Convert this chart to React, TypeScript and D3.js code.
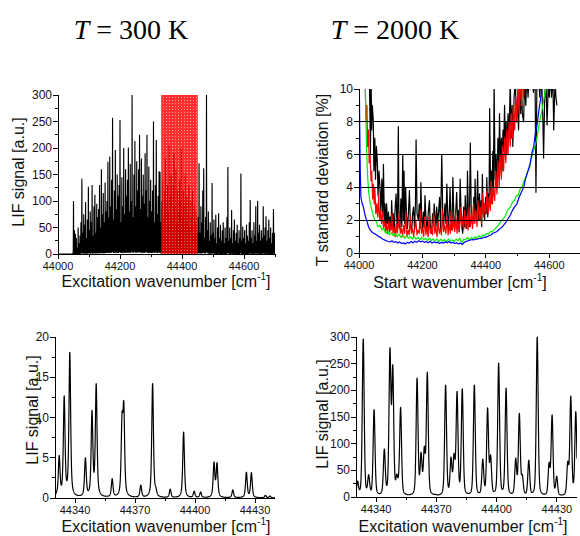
import React, { useMemo } from 'react';
import * as d3 from 'd3';

// ---------------- DATA ----------------
const TITLE_LEFT = '300 K';
const TITLE_RIGHT = '2000 K';

// Top-left: T = 300 K survey spectrum (peak heights on a 3 cm-1 grid starting at 44050)
const TL_START = 44050;
const TL_STEP = 3;
const TL_HEIGHTS = [
  100, 45, 38, 30, 12, 50, 20, 35, 60, 142, 40, 75, 55, 98, 30, 65, 127, 45, 80, 60,
  130, 35, 90, 112, 40, 95, 70, 85, 130, 50, 160, 75, 115, 60, 135, 80, 100, 174, 70, 184,
  90, 140, 257, 65, 120, 196, 85, 150, 110, 130, 253, 60, 145, 90, 200, 75, 160, 110, 140, 201,
  80, 170, 100, 300, 70, 150, 213, 90, 175, 120, 160, 225, 85, 180, 110, 150, 95, 190, 120, 225,
  70, 165, 100, 140, 80, 120, 250, 60, 130, 215, 75, 110, 156, 155, 60, 100, 140, 70, 120, 180,
  90, 130, 80, 205, 110, 150, 70, 130, 190, 90, 160, 60, 120, 80, 140, 100, 200, 70, 120, 90,
  150, 60, 110, 80, 130, 50, 100, 70, 120, 40, 90, 60, 80, 40, 70, 171, 40, 90, 60, 120,
  162, 30, 70, 300, 45, 80, 25, 60, 35, 134, 40, 65, 30, 74, 20, 50, 77, 30, 55, 25,
  45, 60, 20, 50, 30, 70, 164, 25, 50, 30, 83, 20, 45, 65, 25, 40, 55, 20, 45, 30,
  152, 25, 52, 30, 45, 20, 55, 35, 25, 60, 102, 30, 45, 20, 60, 35, 90, 25, 100, 40,
  55, 25, 45, 30, 90, 35, 50, 71, 25, 45, 65, 30, 50, 20, 40, 85, 40,
];
const TL_BOX = [44333, 44451];
const TL_X_MAJOR = [44000, 44200, 44400, 44600];
const TL_Y_MAJOR = [0, 50, 100, 150, 200, 250, 300];

// Top-right: T standard deviation vs start wavenumber (four evaluations)
const TR_BLACK: [number, number][] = [
  [44030, 12], [44033, 10.5], [44036, 6], [44038, 11], [44040, 7.5], [44042, 9], [44045, 8.1], [44047, 5],
  [44050, 7], [44052, 4.5], [44055, 6.5], [44058, 5.5], [44060, 3.5], [44063, 5], [44066, 4.0], [44069, 2.5],
  [44072, 4.5], [44075, 2.2], [44077, 5.4], [44080, 2.0], [44082, 3.0], [44085, 1.5], [44087, 3.0], [44090, 1.8],
  [44093, 2.5], [44096, 1.3], [44098, 2.2], [44101, 1.4], [44103, 3.2], [44106, 1.5], [44108, 2.4], [44111, 1.3],
  [44114, 2.8], [44117, 3.6], [44120, 1.4], [44122, 3.0], [44124, 7.7], [44126, 2.0], [44129, 1.5], [44132, 3.3],
  [44135, 1.6], [44138, 6.0], [44140, 2.0], [44142, 5.0], [44144, 1.8], [44147, 4.0], [44150, 2.2], [44153, 1.5],
  [44156, 2.5], [44159, 3.8], [44162, 1.8], [44166, 1.3], [44169, 2.4], [44172, 2.8], [44175, 1.5], [44178, 3.0],
  [44180, 6.9], [44183, 2.4], [44187, 2.0], [44190, 3.0], [44193, 1.5], [44195, 4.3], [44198, 2.0], [44201, 1.5],
  [44203, 2.5], [44206, 1.6], [44208, 3.5], [44211, 2.2], [44214, 1.4], [44216, 1.8], [44219, 2.6], [44222, 3.2],
  [44225, 1.6], [44229, 1.2], [44232, 2.4], [44235, 1.8], [44237, 3.0], [44240, 2.2], [44243, 1.6], [44245, 2.8],
  [44248, 1.8], [44251, 2.5], [44254, 3.4], [44257, 1.5], [44261, 6.0], [44264, 2.5], [44266, 1.4], [44268, 2.0],
  [44271, 3.0], [44274, 1.8], [44277, 4.2], [44280, 2.2], [44282, 1.5], [44285, 2.6], [44287, 4.0], [44290, 2.0],
  [44293, 1.4], [44296, 4.6], [44299, 2.2], [44302, 1.5], [44305, 2.5], [44308, 3.7], [44311, 1.8], [44314, 2.6],
  [44316, 1.3], [44319, 4.5], [44322, 2.4], [44325, 1.5], [44327, 1.2], [44330, 2.8], [44333, 1.6], [44335, 3.5],
  [44338, 2.0], [44340, 1.5], [44342, 5.0], [44345, 2.4], [44348, 1.6], [44351, 6.7], [44354, 2.4], [44357, 1.8],
  [44359, 1.8], [44362, 3.4], [44364, 2.0], [44366, 4.5], [44369, 2.2], [44372, 3.0], [44374, 5.0], [44377, 2.0],
  [44380, 3.6], [44382, 2.0], [44385, 3.2], [44387, 1.6], [44389, 4.8], [44392, 2.4], [44394, 3.0], [44396, 2.0],
  [44399, 3.4], [44401, 2.4], [44403, 4.6], [44406, 2.2], [44408, 3.6], [44410, 2.8], [44412, 8.8], [44415, 3.5],
  [44417, 5.0], [44419, 3.0], [44422, 6.2], [44424, 4.0], [44426, 10.5], [44429, 4.5], [44432, 6.0], [44435, 4.0],
  [44438, 7.0], [44441, 5.0], [44443, 8.5], [44446, 5.5], [44449, 7.0], [44451, 5.0], [44454, 7.5], [44456, 6.2],
  [44459, 9.0], [44462, 6.0], [44464, 8.0], [44466, 6.0], [44470, 8.5], [44473, 7.0], [44477, 10.5], [44480, 7.0],
  [44483, 9.0], [44485, 6.5], [44489, 9.5], [44493, 10.5], [44496, 8.0], [44500, 9.5], [44503, 7.5], [44507, 10.5],
  [44510, 8.5], [44512, 10.5], [44515, 8.5], [44519, 8.0], [44522, 10.5], [44526, 9.0], [44529, 11], [44533, 9.5],
  [44537, 11], [44540, 10], [44545, 11], [44550, 9.8], [44555, 11], [44558, 3.7], [44561, 10.5], [44566, 11],
  [44570, 9.5], [44575, 11], [44580, 8.0], [44582, 5.8], [44585, 9], [44589, 11], [44593, 7.8], [44597, 10.5],
  [44600, 9.5], [44603, 11], [44607, 9.5], [44611, 11], [44614, 7.5], [44618, 10.5], [44621, 9.5], [44624, 9.0],
];
const TR_RED: [number, number][] = [
  [44018, 12], [44020, 10], [44022, 8], [44025, 9], [44027, 6.5], [44030, 7.5], [44032, 5.5], [44035, 6.0],
  [44038, 4.4], [44040, 5.0], [44043, 3.3], [44045, 4.2], [44048, 3.0], [44050, 4.0], [44053, 2.4], [44056, 3.0],
  [44059, 2.2], [44062, 3.5], [44065, 2.0], [44068, 2.6], [44071, 1.8], [44074, 2.5], [44077, 1.5], [44080, 2.0],
  [44084, 1.3], [44087, 1.8], [44090, 1.2], [44094, 2.0], [44097, 1.3], [44100, 1.6], [44104, 2.4], [44107, 1.2],
  [44110, 1.6], [44114, 1.0], [44117, 1.8], [44120, 1.2], [44124, 1.6], [44127, 2.5], [44130, 1.2], [44134, 1.5],
  [44137, 1.0], [44141, 1.7], [44144, 1.2], [44148, 2.4], [44151, 1.0], [44155, 1.4], [44158, 1.1], [44162, 2.2],
  [44165, 1.2], [44169, 1.5], [44172, 1.0], [44176, 1.5], [44179, 2.0], [44183, 1.1], [44186, 1.4], [44190, 1.2],
  [44193, 2.6], [44197, 1.2], [44200, 1.5], [44204, 1.0], [44207, 2.2], [44211, 1.1], [44214, 1.6], [44218, 1.0],
  [44221, 2.2], [44225, 1.2], [44228, 1.5], [44232, 1.1], [44235, 2.4], [44239, 1.2], [44242, 1.6], [44246, 1.0],
  [44249, 2.0], [44253, 1.2], [44256, 1.5], [44260, 1.1], [44263, 2.6], [44267, 1.3], [44270, 1.7], [44274, 1.2],
  [44277, 2.2], [44281, 1.1], [44284, 1.8], [44288, 1.2], [44291, 2.6], [44295, 1.4], [44298, 2.0], [44302, 1.3],
  [44305, 2.4], [44309, 1.2], [44312, 1.9], [44316, 1.3], [44319, 2.8], [44323, 1.5], [44326, 2.2], [44330, 1.4],
  [44333, 2.6], [44337, 1.5], [44340, 2.2], [44344, 1.4], [44347, 2.8], [44351, 1.6], [44354, 2.4], [44358, 1.5],
  [44361, 3.0], [44365, 1.8], [44368, 2.6], [44372, 1.6], [44375, 3.2], [44379, 2.0], [44382, 2.8], [44386, 1.8],
  [44389, 3.6], [44393, 2.2], [44396, 3.0], [44400, 2.4], [44403, 3.8], [44407, 2.4], [44410, 3.4], [44414, 2.6],
  [44417, 4.4], [44421, 3.0], [44424, 4.0], [44428, 3.2], [44431, 5.0], [44435, 3.6], [44438, 5.6], [44442, 4.0],
  [44445, 6.0], [44449, 4.5], [44452, 6.5], [44456, 5.0], [44459, 7.0], [44463, 5.5], [44466, 7.5], [44470, 6.0],
  [44473, 8.0], [44477, 6.5], [44480, 8.5], [44484, 7.0], [44487, 9.0], [44491, 7.5], [44494, 9.5], [44498, 8.0],
  [44501, 10.5], [44505, 8.5], [44508, 11], [44512, 9.0], [44515, 11], [44519, 9.5], [44522, 11], [44526, 10.2],
  [44530, 11],
];
const TR_GREEN: [number, number][] = [
  [44018, 12], [44020, 10], [44022, 8], [44024, 6.2], [44027, 4.8], [44030, 3.8], [44034, 3.2], [44038, 2.8],
  [44042, 2.5], [44046, 2.2], [44050, 2.0], [44055, 1.9], [44060, 1.6], [44066, 1.7], [44072, 1.4], [44078, 1.5],
  [44084, 1.2], [44090, 1.35], [44096, 1.1], [44102, 1.25], [44108, 1.05], [44114, 1.2], [44120, 1.0], [44126, 1.15],
  [44132, 0.95], [44138, 1.1], [44144, 0.9], [44150, 1.05], [44156, 0.9], [44162, 1.0], [44168, 0.85], [44174, 1.0],
  [44180, 0.85], [44186, 0.95], [44192, 0.8], [44198, 0.95], [44204, 0.8], [44210, 0.9], [44216, 0.75], [44222, 0.9],
  [44228, 0.75], [44234, 0.85], [44240, 0.75], [44246, 0.85], [44252, 0.7], [44258, 0.85], [44264, 0.72], [44270, 0.82],
  [44276, 0.7], [44282, 0.85], [44288, 0.72], [44294, 0.8], [44300, 0.7], [44306, 0.85], [44312, 0.75], [44318, 0.9],
  [44324, 0.6], [44330, 0.85], [44336, 0.8], [44342, 0.95], [44348, 0.8], [44354, 0.95], [44360, 0.85], [44366, 1.0],
  [44372, 0.9], [44378, 1.05], [44384, 0.95], [44390, 1.1], [44396, 1.05], [44402, 1.2], [44408, 1.15], [44414, 1.3],
  [44420, 1.3], [44430, 1.5], [44440, 1.7], [44450, 2.0], [44460, 2.2], [44468, 2.6], [44477, 2.8], [44484, 3.1],
  [44490, 3.2], [44496, 3.5], [44502, 3.5], [44508, 3.9], [44514, 4.0], [44520, 4.4], [44526, 4.6], [44532, 5.0],
  [44538, 5.2], [44544, 5.8], [44550, 6.2], [44556, 6.6], [44561, 7.0], [44566, 7.6], [44571, 8.2], [44576, 8.6],
  [44582, 9.3], [44587, 9.8], [44592, 10.4],
];
const TR_BLUE: [number, number][] = [
  [44000, 12], [44002, 8.3], [44004, 5], [44006, 3.4], [44010, 3.0], [44014, 2.8], [44019, 2.3], [44024, 2.0],
  [44030, 1.6], [44035, 1.4], [44040, 1.3], [44046, 1.2], [44052, 1.15], [44056, 1.1], [44062, 1.0], [44068, 0.95],
  [44074, 0.85], [44080, 0.8], [44086, 0.75], [44092, 0.7], [44098, 0.67], [44104, 0.75], [44110, 0.65], [44116, 0.7],
  [44122, 0.6], [44128, 0.68], [44134, 0.58], [44140, 0.62], [44146, 0.55], [44152, 0.65], [44158, 0.6], [44164, 0.7],
  [44170, 0.62], [44176, 0.72], [44182, 0.65], [44188, 0.75], [44194, 0.68], [44200, 0.72], [44206, 0.65], [44212, 0.7],
  [44218, 0.62], [44224, 0.72], [44230, 0.6], [44236, 0.68], [44242, 0.62], [44248, 0.66], [44254, 0.58], [44260, 0.65],
  [44266, 0.6], [44272, 0.68], [44278, 0.62], [44284, 0.7], [44290, 0.6], [44296, 0.66], [44302, 0.58], [44308, 0.62],
  [44314, 0.55], [44320, 0.6], [44326, 0.52], [44332, 0.65], [44338, 0.7], [44344, 0.75], [44350, 0.78], [44356, 0.82],
  [44362, 0.8], [44368, 0.85], [44374, 0.84], [44380, 0.9], [44386, 0.88], [44392, 0.95], [44398, 0.95], [44404, 1.0],
  [44410, 1.05], [44416, 1.1], [44422, 1.2], [44428, 1.25], [44434, 1.3], [44440, 1.4], [44446, 1.5], [44452, 1.6],
  [44458, 1.75], [44464, 1.9], [44470, 2.1], [44477, 2.3], [44484, 2.6], [44490, 2.8], [44498, 3.0], [44505, 3.4],
  [44512, 3.7], [44519, 4.0], [44526, 4.6], [44533, 5.0], [44540, 5.5], [44546, 6.2], [44551, 6.5], [44556, 7.3],
  [44561, 7.8], [44566, 8.5], [44571, 9.2], [44577, 10], [44582, 10.8],
];
const TR_GRID = [2, 4, 6, 8];
const TR_X_MAJOR = [44000, 44200, 44400, 44600];
const TR_Y_MAJOR = [0, 2, 4, 6, 8, 10];

// Bottom-left: T = 300 K detail (peak centres / heights)
const BL_PEAK_WN = [
  44330.8, 44332.1, 44334.6, 44337.4, 44345.2, 44348.5, 44350.6, 44358.6, 44363.5, 44364.4, 44372.9, 44378.8,
  44380.4, 44387.6, 44394.3, 44399.6, 44402.8, 44409.5, 44411.0, 44418.9, 44425.7, 44428.2, 44435.2, 44437.5,
];
const BL_PEAK_H = [
  0.8, 5.3, 12.7, 18.1, 5.0, 10.9, 14.2, 2.4, 10.6, 12.0, 1.6, 14.2,
  1.4, 1.1, 8.2, 0.85, 0.75, 4.5, 4.4, 1.0, 3.2, 3.15, 0.33, 0.25,
];
const BL_Y_MAJOR = [0, 5, 10, 15, 20];

// Bottom-right: T = 2000 K detail
const BR_PEAK_WN = [
  44330.8, 44333.6, 44336.3, 44339.0, 44344.1, 44346.9, 44348.3, 44350.3, 44351.2, 44352.2, 44360.4, 44362.4,
  44364.0, 44365.5, 44369.5, 44374.6, 44377.3, 44378.8, 44380.3, 44382.9, 44388.9, 44393.1, 44395.5, 44397.0,
  44401.0, 44404.7, 44409.5, 44411.3, 44412.8, 44416.0, 44420.2, 44426.1, 44427.6, 44429.9, 44435.4, 44436.9,
  44439.4,
];
const BR_PEAK_H = [
  30, 296, 42, 164, 90, 280, 248, 43, 43, 168, 223, 84,
  95, 234, 5, 210, 75, 82, 198, 203, 210, 71, 167, 79,
  251, 204, 73, 157, 42, 69, 300, 65, 154, 39, 67, 189,
  160,
];
const BR_Y_MAJOR = [0, 50, 100, 150, 200, 250, 300];
const B_X_MAJOR = [44340, 44370, 44400, 44430];

// ---------------- HELPERS ----------------
const SANS = "'Liberation Sans', Arial, Helvetica, sans-serif";
const SERIF = "'Liberation Serif', 'Times New Roman', serif";

function shape(x: number, c: number, g: number, eta: number) {
  const d = (x - c) / g;
  return eta / (1 + d * d) + (1 - eta) * Math.exp(-Math.LN2 * d * d);
}

function spectrum(centers: number[], heights: number[], g: number, eta: number, x0: number, x1: number, step: number) {
  const n = centers.length;
  let a = heights.slice();
  for (let it = 0; it < 40; it++) {
    const next = heights.map((h, i) => {
      let s = 0;
      for (let j = 0; j < n; j++) if (j !== i) s += a[j] * shape(centers[i], centers[j], g, eta);
      return Math.max(h - s, 0.05 * h);
    });
    a = a.map((v, i) => 0.5 * v + 0.5 * next[i]);
  }
  const pts: [number, number][] = [];
  const m = Math.round((x1 - x0) / step);
  for (let k = 0; k <= m; k++) {
    const x = x0 + k * step;
    let s = 0;
    for (let j = 0; j < n; j++) s += a[j] * shape(x, centers[j], g, eta);
    pts.push([x, s]);
  }
  return pts;
}

type Lin = d3.ScaleLinear<number, number>;

function Axes({ x, y, xMajor, xMinor, yMajor, yMinor, xRight, yFmt }: {
  x: Lin; y: Lin; xMajor: number[]; xMinor: number[]; yMajor: number[]; yMinor: number[]; xRight?: number; yFmt?: (v: number) => string;
}) {
  const [x0, x1] = x.range();
  const [y0, y1] = y.range();
  const xr = xRight ?? x1;
  return (
    <g stroke="#000" strokeWidth={1} shapeRendering="crispEdges">
      <line x1={x0} x2={xr} y1={y0} y2={y0} />
      <line x1={x0} x2={x0} y1={y0} y2={y1} />
      {xMinor.map((v) => (
        <line key={'xm' + v} x1={x(v)} x2={x(v)} y1={y0} y2={y0 + 3} />
      ))}
      {xMajor.map((v) => (
        <line key={'xM' + v} x1={x(v)} x2={x(v)} y1={y0} y2={y0 + 5} />
      ))}
      {yMinor.map((v) => (
        <line key={'ym' + v} x1={x0 - 3} x2={x0} y1={y(v)} y2={y(v)} />
      ))}
      {yMajor.map((v) => (
        <line key={'yM' + v} x1={x0 - 5} x2={x0} y1={y(v)} y2={y(v)} />
      ))}
      <g stroke="none" fill="#111" fontFamily={SANS}>
        {xMajor.map((v) => (
          <text key={'xt' + v} x={x(v)} y={y0 + 15.5} fontSize={11} textAnchor="middle">
            {v}
          </text>
        ))}
        {yMajor.map((v) => (
          <text key={'yt' + v} x={x0 - 6} y={y(v) + 4} fontSize={12} textAnchor="end">
            {yFmt ? yFmt(v) : v}
          </text>
        ))}
      </g>
    </g>
  );
}

function XTitle({ x, y, label }: { x: number; y: number; label: string }) {
  return (
    <text x={x} y={y} fontFamily={SANS} fontSize={16} textAnchor="middle" fill="#111">
      {label} [cm
      <tspan dy={-7} fontSize={10}>-1</tspan>
      <tspan dy={7}>]</tspan>
    </text>
  );
}

function YTitle({ x, y, label }: { x: number; y: number; label: string }) {
  return (
    <text transform={`translate(${x},${y}) rotate(-90)`} fontFamily={SANS} fontSize={16} textAnchor="middle" fill="#111">
      {label}
    </text>
  );
}

// ---------------- APP ----------------
export default function App() {
  // scales
  const tlX = d3.scaleLinear().domain([44000, 44700]).range([58, 275]);
  const tlY = d3.scaleLinear().domain([0, 300]).range([254, 95]);
  const trX = d3.scaleLinear().domain([44000, 44700]).range([359, 581]);
  const trY = d3.scaleLinear().domain([0, 10]).range([253, 89]);
  const blX = d3.scaleLinear().domain([44330, 44440]).range([55, 275]);
  const blY = d3.scaleLinear().domain([0, 20]).range([498, 337]);
  const brX = d3.scaleLinear().domain([44330, 44440]).range([356, 577]);
  const brY = d3.scaleLinear().domain([0, 300]).range([497, 337]);

  const tlPath = useMemo(() => {
    const wn = TL_HEIGHTS.map((_, i) => TL_START + i * TL_STEP);
    const pts = spectrum(wn, TL_HEIGHTS, 0.45, 0.12, 44000, 44700, 0.1);
    return d3.line<[number, number]>().x((d) => tlX(d[0])).y((d) => tlY(d[1]))(pts) ?? '';
  }, []);
  const blPath = useMemo(() => {
    const pts = spectrum(BL_PEAK_WN, BL_PEAK_H, 0.5, 0.6, 44330, 44440, 0.05);
    return d3.line<[number, number]>().x((d) => blX(d[0])).y((d) => blY(d[1]))(pts) ?? '';
  }, []);
  const brPath = useMemo(() => {
    const pts = spectrum(BR_PEAK_WN, BR_PEAK_H, 0.55, 0.35, 44330, 44440, 0.05);
    return d3.line<[number, number]>().x((d) => brX(d[0])).y((d) => brY(d[1]))(pts) ?? '';
  }, []);
  const trLine = d3.line<[number, number]>().x((d) => trX(d[0])).y((d) => trY(d[1]));

  const minor = (a: number, b: number, s: number) => d3.range(a, b + 1e-9, s);

  return (
    <svg width={580} height={536} style={{ position: 'absolute', left: 0, top: 0, background: '#fff' }}>
      <defs>
        <clipPath id="clipTL"><rect x={58} y={94} width={217} height={161} /></clipPath>
        <clipPath id="clipTR"><rect x={359} y={89} width={222} height={164} /></clipPath>
        <clipPath id="clipBL"><rect x={55} y={336} width={220} height={163} /></clipPath>
        <clipPath id="clipBR"><rect x={356} y={336} width={221} height={162} /></clipPath>
        <pattern id="dots" width={3} height={3} patternUnits="userSpaceOnUse">
          <rect width={3} height={3} fill="#ff0000" />
          <rect x={1} y={1} width={1} height={1} fill="#ffffff" opacity={0.55} />
        </pattern>
      </defs>

      {/* Titles */}
      <text x={131} y={39} fontFamily={SERIF} fontSize={28} textAnchor="middle" fill="#000">
        <tspan fontStyle="italic">T</tspan> = {TITLE_LEFT}
      </text>
      <text x={395} y={39} fontFamily={SERIF} fontSize={28} textAnchor="middle" fill="#000">
        <tspan fontStyle="italic">T</tspan> = {TITLE_RIGHT}
      </text>

      {/* Top-left */}
      <g clipPath="url(#clipTL)">
        <path d={tlPath} fill="none" stroke="#000" strokeWidth={1.1} />
        <rect x={tlX(TL_BOX[0])} y={tlY(300)} width={tlX(TL_BOX[1]) - tlX(TL_BOX[0])} height={tlY(0) - tlY(300)}
          fill="url(#dots)" opacity={0.82} />
      </g>
      <Axes x={tlX} y={tlY} xMajor={TL_X_MAJOR} xMinor={minor(44000, 44700, 100)} yMajor={TL_Y_MAJOR} yMinor={minor(0, 300, 25)} />
      <YTitle x={24} y={172} label="LIF signal [a.u.]" />
      <XTitle x={166} y={287} label="Excitation wavenumber" />

      {/* Top-right */}
      <g clipPath="url(#clipTR)" fill="none" strokeWidth={1.2} strokeLinejoin="round">
        <path d={trLine(TR_BLACK) ?? ''} stroke="#000" />
        <path d={trLine(TR_RED) ?? ''} stroke="#ff0000" />
        <path d={trLine(TR_GREEN) ?? ''} stroke="#00ee00" />
        <path d={trLine(TR_BLUE) ?? ''} stroke="#0000ff" />
      </g>
      <g stroke="#000" strokeWidth={1} shapeRendering="crispEdges">
        {TR_GRID.map((v) => (
          <line key={v} x1={359} x2={580} y1={trY(v)} y2={trY(v)} />
        ))}
      </g>
      <Axes x={trX} y={trY} xMajor={TR_X_MAJOR} xMinor={minor(44000, 44700, 100)} yMajor={TR_Y_MAJOR} yMinor={minor(0, 10, 1)} xRight={580} />
      <YTitle x={328} y={180} label="T standard deviation [%]" />
      <XTitle x={460} y={288} label="Start wavenumber" />

      {/* Bottom-left */}
      <g clipPath="url(#clipBL)">
        <path d={blPath} fill="none" stroke="#000" strokeWidth={1.2} strokeLinejoin="round" />
      </g>
      <Axes x={blX} y={blY} xMajor={B_X_MAJOR} xMinor={minor(44340, 44440, 15)} yMajor={BL_Y_MAJOR} yMinor={minor(0, 20, 2.5)} />
      <YTitle x={38} y={410} label="LIF signal [a.u.]" />
      <XTitle x={166} y={532} label="Excitation wavenumber" />

      {/* Bottom-right */}
      <g clipPath="url(#clipBR)">
        <path d={brPath} fill="none" stroke="#000" strokeWidth={1.2} strokeLinejoin="round" />
      </g>
      <Axes x={brX} y={brY} xMajor={B_X_MAJOR} xMinor={minor(44340, 44440, 15)} yMajor={BR_Y_MAJOR} yMinor={minor(0, 300, 25)} />
      <YTitle x={328} y={414} label="LIF signal [a.u.]" />
      <XTitle x={463} y={532} label="Excitation wavenumber" />
    </svg>
  );
}
